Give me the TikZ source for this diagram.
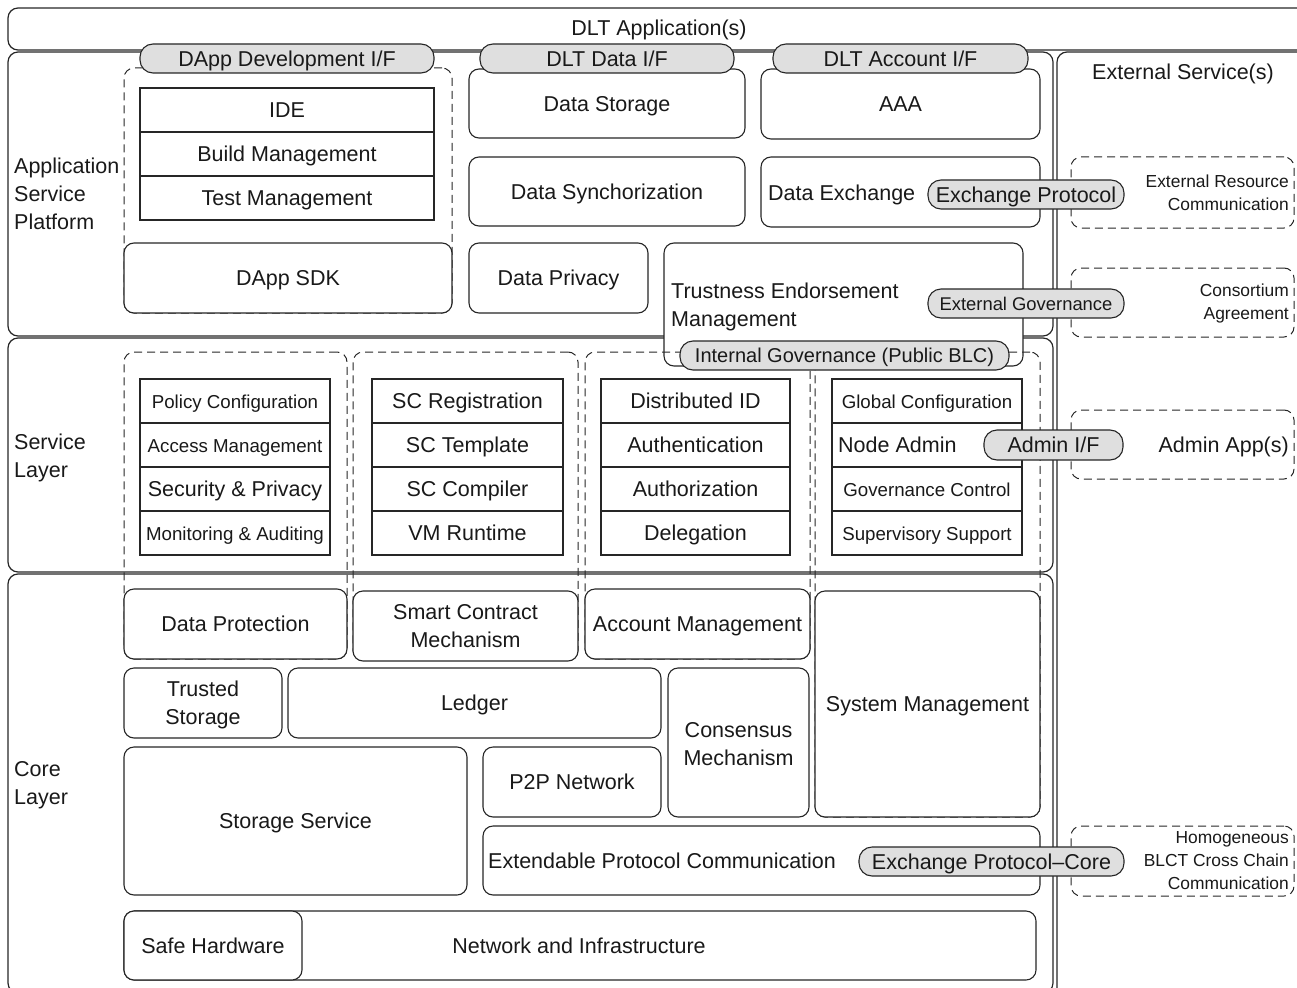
\documentclass[tikz,border=0pt]{standalone}
\usepackage{fontspec}
\setmainfont{Liberation Sans}
% font sizes used in the architecture chart
\newcommand\fsN{\fontsize{21.5}{28}\selectfont}
\newcommand\fsS{\fontsize{18.7}{24}\selectfont}
\newcommand\fsT{\fontsize{17.4}{23}\selectfont}
\newcommand\fsI{\fontsize{20}{26}\selectfont}
\tikzset{
  one/.style={text height=15.5pt, text depth=0pt},
  ones/.style={text height=13.4pt, text depth=0pt},
  layerbox/.style={draw=black!85, line width=1.2pt, rounded corners=10pt,
    inner sep=0pt, outer sep=0pt},
  rbox/.style={draw=black!85, line width=1.1pt, fill=white, rounded corners=10pt,
    inner sep=0pt, outer sep=0pt, font=\fsN, align=center, text=black!90},
  cell/.style={draw=black!85, line width=1.1pt, fill=white, inner sep=0pt,
    outer sep=0pt, font=\fsN, text=black!90, one},
  pill/.style={draw=black!85, line width=1.1pt, fill=gray!25, rounded corners=13pt,
    inner sep=0pt, outer sep=0pt, font=\fsN, text=black!90, one},
  grpbox/.style={draw=black!85, line width=1pt, dash pattern=on 8pt off 5pt,
    rounded corners=10pt, inner sep=0pt, outer sep=0pt},
  lbl/.style={font=\fsN, inner sep=0pt, align=left, text=black!90},
  rlbl/.style={font=\fsT, inner sep=0pt, align=right, anchor=east, text=black!90},
}
% box node spanning the corners (#4,#5) and (#6,#7)
\newcommand\bx[8][]{%
  \pgfmathsetmacro\bxw{#6-#4}\pgfmathsetmacro\bxh{#7-#5}%
  \pgfmathsetmacro\bxx{(#4+#6)/2}\pgfmathsetmacro\bxy{(#5+#7)/2}%
  \node[#2, minimum width=\bxw pt, minimum height=\bxh pt, #1] (#3) at (\bxx,\bxy) {#8};}
% four stacked service cells between x=#1 and x=#2
\newcommand\cellstack[7]{%
  \bx{cell}{#3-1}{#1}{379}{#2}{423}{#4}
  \bx{cell}{#3-2}{#1}{423}{#2}{467}{#5}
  \bx{cell}{#3-3}{#1}{467}{#2}{511}{#6}
  \bx{cell}{#3-4}{#1}{511}{#2}{555}{#7}}
\begin{document}
\begin{tikzpicture}[x=1pt, y=-1pt]
\useasboundingbox (0,0) rectangle (1297,987);
\begin{scope}
\clip (0,0) rectangle (1297,987);

% ---------- outer frames ----------
\bx{layerbox}{ext}{1057}{52}{1330}{1010}{}
\bx{layerbox}{app}{8}{8}{1330}{50}{}
\bx{layerbox}{asp}{8}{52}{1053}{336}{}
\bx{layerbox}{svc}{8}{338}{1053}{572}{}
\bx{layerbox}{core}{8}{574}{1053}{993}{}

\node[lbl, one] (apptitle) at (659,28) {DLT Application(s)};
\node[lbl, one] (exttitle) at (1183,72) {External Service(s)};
\node[lbl, anchor=west] (asplbl) at (14,194) {Application\\Service\\Platform};
\node[lbl, anchor=west] (svclbl) at (14,458) {Service\\Layer};
\node[lbl, anchor=west] (corelbl) at (14,785) {Core\\Layer};

% ---------- application service platform ----------
\bx{grpbox}{devgrp}{124}{68}{452}{313}{}
\bx{cell}{ide}{140}{88}{434}{132}{IDE}
\bx{cell}{build}{140}{132}{434}{176}{Build Management}
\bx{cell}{test}{140}{176}{434}{220}{Test Management}
\bx[one]{rbox}{sdk}{124}{243}{452}{313}{DApp SDK}

\bx[one]{rbox}{dstore}{469}{69}{745}{138}{Data Storage}
\bx[one]{rbox}{dsync}{469}{157}{745}{226}{Data Synchorization}
\bx[one]{rbox}{dpriv}{469}{243}{648}{313}{Data Privacy}

\bx[one]{rbox}{aaa}{761}{69}{1040}{139}{AAA}
\bx{rbox}{dexch}{761}{157}{1040}{227}{}
\node[lbl, one, anchor=west] (dexchtxt) at (768,193) {Data Exchange};
\bx{rbox}{trust}{664}{243}{1023}{366}{}
\node[lbl, anchor=west] (trusttxt) at (671,307) {Trustness Endorsement\\Management};

% ---------- service layer groups ----------
\bx{grpbox}{grpA}{124}{352}{347}{659}{}
\bx{grpbox}{grpB}{353}{352}{578}{660}{}
\bx{grpbox}{grpC}{585}{352}{810}{659}{}
\bx{grpbox}{grpD}{815}{352}{1040}{817}{}

\cellstack{140}{330}{sec}{\fsS Policy Configuration}{\fsS Access Management}{Security \& Privacy}{\fsS Monitoring \& Auditing}
\cellstack{372}{563}{sc}{SC Registration}{SC Template}{SC Compiler}{VM Runtime}
\cellstack{601}{790}{id}{Distributed ID}{Authentication}{Authorization}{Delegation}
\cellstack{832}{1022}{sys}{\fsS Global Configuration}{}{\fsS Governance Control}{\fsS Supervisory Support}
\node[lbl, one, anchor=west] (nodeadmin) at (838,445) {Node Admin};

% ---------- core layer ----------
\bx[one]{rbox}{dprot}{124}{589}{347}{659}{Data Protection}
\bx[yshift=-1pt]{rbox}{scm}{353}{590}{578}{660}{Smart Contract\\Mechanism}
\bx[one]{rbox}{acct}{585}{589}{810}{659}{Account Management}
\bx[one]{rbox}{sysm}{815}{591}{1040}{817}{System Management}
\bx{rbox}{tstore}{124}{668}{282}{738}{}
\node[lbl, align=center] (tstoretxt) at (203,705) {Trusted\\Storage};
\bx[one]{rbox}{ledger}{288}{668}{661}{738}{Ledger}
\bx{rbox}{cons}{668}{668}{809}{817}{}
\node[lbl, align=center] (constxt) at (738.5,744) {Consensus\\Mechanism};
\bx[one]{rbox}{stsvc}{124}{747}{467}{895}{Storage Service}
\bx[one]{rbox}{p2p}{483}{747}{661}{817}{P2P Network}
\bx{rbox}{extp}{483}{826}{1040}{895}{}
\node[lbl, one, anchor=west] (extptxt) at (488,861) {Extendable Protocol Communication};
\bx{rbox}{netinf}{124}{911}{1036}{980}{}
\node[lbl, one] (netinftxt) at (579,946) {Network and Infrastructure};
\bx[one]{rbox}{safehw}{124}{911}{302}{980}{Safe Hardware}

% ---------- external services ----------
\bx{grpbox}{ercbox}{1071}{157}{1294}{228}{}
\node[rlbl] (erctxt) at (1289,192.5) {External Resource\\Communication};
\bx{grpbox}{cabox}{1071}{268}{1294}{337}{}
\node[rlbl] (catxt) at (1289,303.5) {Consortium\\Agreement};
\bx{grpbox}{admbox}{1071}{410}{1294}{479}{}
\node[rlbl, font=\fsN, one] (admtxt) at (1289,445) {Admin App(s)};
\bx{grpbox}{hombox}{1071}{826}{1294}{896}{}
\node[rlbl] (homtxt) at (1289,861) {Homogeneous\\BLCT Cross Chain\\Communication};

% ---------- interfaces ----------
\bx{pill}{devif}{140}{44}{434}{73}{DApp Development I/F}
\bx{pill}{dataif}{480}{44}{734}{73}{DLT Data I/F}
\bx{pill}{acctif}{773}{44}{1028}{73}{DLT Account I/F}
\bx{pill}{exchp}{928}{180}{1124}{209}{Exchange Protocol}
\bx[font=\fontsize{18.4}{24}\selectfont, ones]{pill}{extgov}{928}{289}{1124}{318}{External Governance}
\bx[font=\fsI, text height=14.4pt]{pill}{intgov}{680}{341}{1009}{370}{Internal Governance (Public BLC)}
\bx{pill}{admif}{984}{430}{1123}{460}{Admin I/F}
\bx{pill}{exchcore}{859}{847}{1124}{876}{Exchange Protocol--Core}
\end{scope}
\end{tikzpicture}
\end{document}
